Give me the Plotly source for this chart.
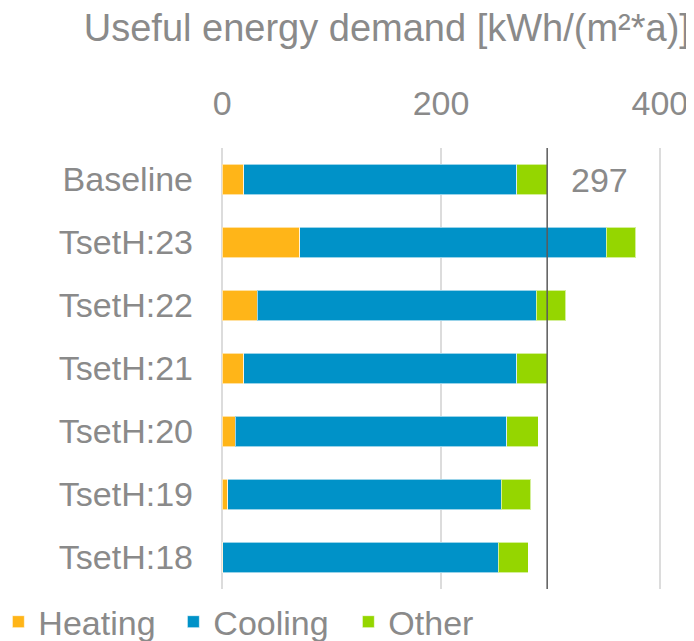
import plotly.graph_objects as go

# Data (kWh/(m²*a))
categories = ['Baseline', 'TsetH:23', 'TsetH:22', 'TsetH:21', 'TsetH:20', 'TsetH:19', 'TsetH:18']
heating = [20, 71, 32, 20, 12, 5, 0.5]
cooling = [249, 280, 255, 249, 248, 250, 252]
other = [28, 27, 27, 28, 29, 27, 27]
baseline_total = 297

font_col = '#8a8a8a'
fnt = 'Liberation Sans, Arial, sans-serif'

fig = go.Figure()
for name, vals, col in [('Heating', heating, '#FFB518'),
                        ('Cooling', cooling, '#0092C8'),
                        ('Other', other, '#95D600')]:
    fig.add_trace(go.Bar(y=categories, x=vals, name=name, orientation='h',
                         marker=dict(color=col, line=dict(color='rgba(255,255,255,0.6)', width=1))))

# Reference line at the baseline total
fig.add_shape(type='line', x0=baseline_total, x1=baseline_total, y0=0, y1=1,
              xref='x', yref='paper', line=dict(color='#5a5a5a', width=1.5))
fig.add_annotation(x=baseline_total, y='Baseline', text=str(baseline_total),
                   showarrow=False, xanchor='left', xshift=22,
                   font=dict(size=34, color=font_col, family=fnt))

# page body adds 8px offset, so the figure is a bit smaller than the window
fig.update_layout(
    width=686, height=633,
    barmode='stack', bargap=0.51,
    plot_bgcolor='white', paper_bgcolor='white',
    margin=dict(l=213, r=33, t=140, b=52, autoexpand=False),
    font=dict(family=fnt, size=34, color=font_col),
    title=dict(text='Useful energy demand [kWh/(m²*a)]', x=0.994, xanchor='right',
               y=1 - 20 / 633, yanchor='middle',
               font=dict(size=38, color=font_col, family=fnt)),
    legend=dict(orientation='h', x=-0.506, y=-0.075,
                xanchor='left', yanchor='middle', font=dict(size=34, color=font_col),
                itemwidth=30, entrywidth=130, traceorder='normal'),
)
# small padding on the range so the 0 and 400 gridlines get drawn
fig.update_xaxes(side='top', range=[-1, 401], tickvals=[0, 200, 400],
                 showgrid=True, gridcolor='#dcdcdc', gridwidth=2, automargin=False,
                 zeroline=False, showline=False, ticks='', ticklabelstandoff=25)
fig.update_yaxes(autorange='reversed', showgrid=False, zeroline=False, automargin=False,
                 showline=False, ticks='', ticklabelstandoff=27)

fig.write_html('out.html')
